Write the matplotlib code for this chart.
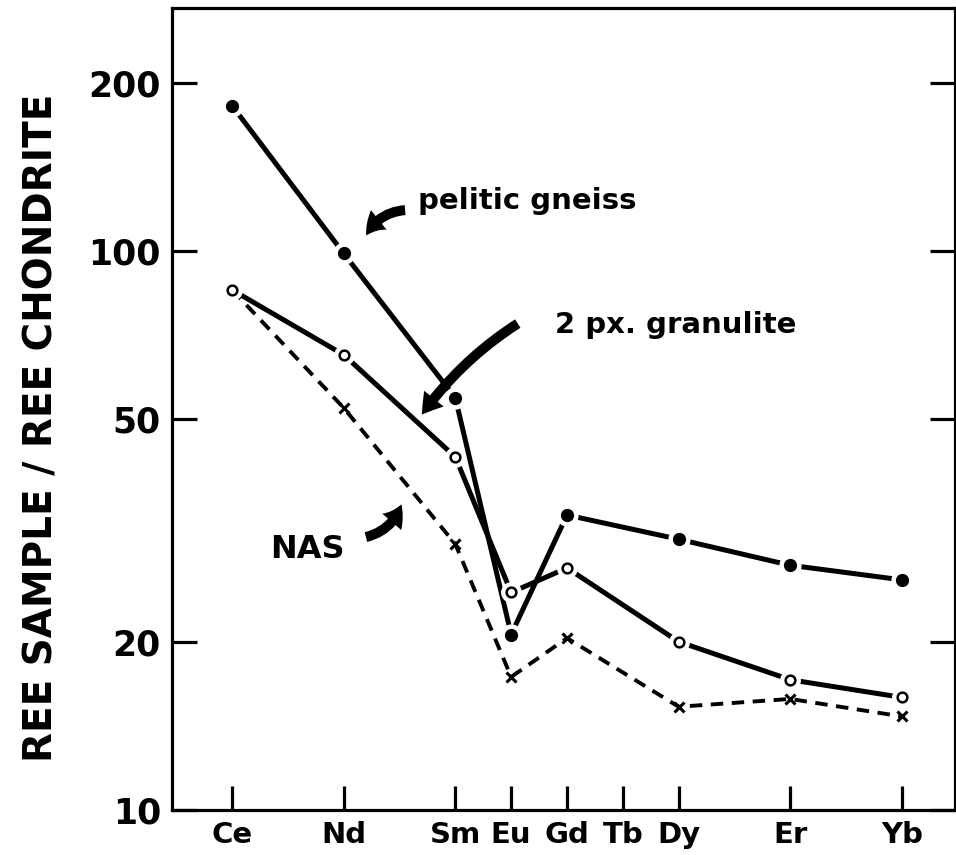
import numpy as np
import matplotlib
matplotlib.use("Agg")
import matplotlib.pyplot as plt
from matplotlib.ticker import FixedLocator, NullLocator, FixedFormatter

# REE on the x axis, placed by atomic number
tick_elements = ["Ce", "Nd", "Sm", "Eu", "Gd", "Tb", "Dy", "Er", "Yb"]
tick_z = [58, 60, 62, 63, 64, 65, 66, 68, 70]

# elements that have data
data_z = [58, 60, 62, 63, 64, 66, 68, 70]

# chondrite normalised values
pelitic_gneiss = [182, 99, 54.6, 20.6, 33.7, 30.5, 27.4, 25.8]
px_granulite = [85.2, 65.2, 42.8, 24.5, 27.1, 20.0, 17.1, 15.9]
nas = [85.2, 52.4, 29.9, 17.3, 20.3, 15.3, 15.8, 14.7]

y_ticks = [10, 20, 50, 100, 200]

font = "DejaVu Sans"

fig = plt.figure(figsize=(9.56, 8.55), dpi=100)
ax = fig.add_axes([172 / 956, 1 - 810 / 855, 783 / 956, 802 / 855])

ax.set_yscale("log")
ax.set_xlim(56.925, 70.95)
ax.set_ylim(10, 272)

# lines
ax.plot(data_z, pelitic_gneiss, color="black", lw=3.6, solid_capstyle="round", zorder=2)
ax.plot(data_z, px_granulite, color="black", lw=3.6, solid_capstyle="round", zorder=2)
ax.plot(data_z, nas, color="black", lw=2.8, ls=(0, (3.2, 2.2)), zorder=2)

# white halos so that lines stop short of the symbols
ax.plot(data_z, pelitic_gneiss, ls="none", marker="o", ms=15, mfc="white", mec="white", zorder=3)
ax.plot(data_z, px_granulite, ls="none", marker="o", ms=14, mfc="white", mec="white", zorder=3)

# symbols
ax.plot(data_z, pelitic_gneiss, ls="none", marker="o", ms=8.5, mfc="black", mec="black", zorder=4)
ax.plot(data_z, px_granulite, ls="none", marker="o", ms=7, mfc="white", mec="black", mew=1.8, zorder=4)
ax.plot(data_z, nas, ls="none", marker="x", ms=6.5, mec="black", mew=2.2, markevery=list(range(1, len(nas))), zorder=4)

# axes styling
for s in ax.spines.values():
    s.set_linewidth(2.3)
ax.xaxis.set_major_locator(FixedLocator(tick_z))
ax.xaxis.set_major_formatter(FixedFormatter(tick_elements))
ax.xaxis.set_minor_locator(NullLocator())
ax.yaxis.set_major_locator(FixedLocator(y_ticks))
ax.yaxis.set_major_formatter(FixedFormatter([str(v) for v in y_ticks]))
ax.yaxis.set_minor_locator(NullLocator())
ax.tick_params(axis="x", direction="in", length=17, width=2.3, pad=8,
               labelsize=21, top=False)
ax.tick_params(axis="y", direction="in", length=18, width=2.3, pad=8,
               labelsize=25, right=True)
for lab in ax.get_xticklabels() + ax.get_yticklabels():
    lab.set_fontfamily(font)
    lab.set_fontweight("bold")

fig.text(0.043, 0.5, "REE SAMPLE / REE CHONDRITE", rotation=90, ha="center", va="center",
         fontsize=28, fontweight="bold", family=font)

# labels with curved arrows
arrow_style = "simple,head_length=0.8,head_width=1.0,tail_width=0.4"

ax.text(61.33, 123, "pelitic gneiss", fontsize=21, fontweight="bold", family=font,
        ha="left", va="center")
ax.annotate("", xy=(60.38, 105.5), xytext=(61.15, 118.4),
            arrowprops=dict(arrowstyle=arrow_style, mutation_scale=18,
                            connectionstyle="arc3,rad=0.3", color="black", lw=0))

ax.text(63.79, 73.7, "2 px. granulite", fontsize=21, fontweight="bold", family=font,
        ha="left", va="center")
ax.annotate("", xy=(61.37, 50.5), xytext=(63.16, 74.6),
            arrowprops=dict(arrowstyle=arrow_style, mutation_scale=18,
                            connectionstyle="arc3,rad=0.1", color="black", lw=0))

ax.text(58.68, 29.2, "NAS", fontsize=23, fontweight="bold", family=font,
        ha="left", va="center")
ax.annotate("", xy=(61.05, 35.6), xytext=(60.35, 30.7),
            arrowprops=dict(arrowstyle=arrow_style, mutation_scale=18,
                            connectionstyle="arc3,rad=0.3", color="black", lw=0))

fig.savefig("out.png", dpi=100)
